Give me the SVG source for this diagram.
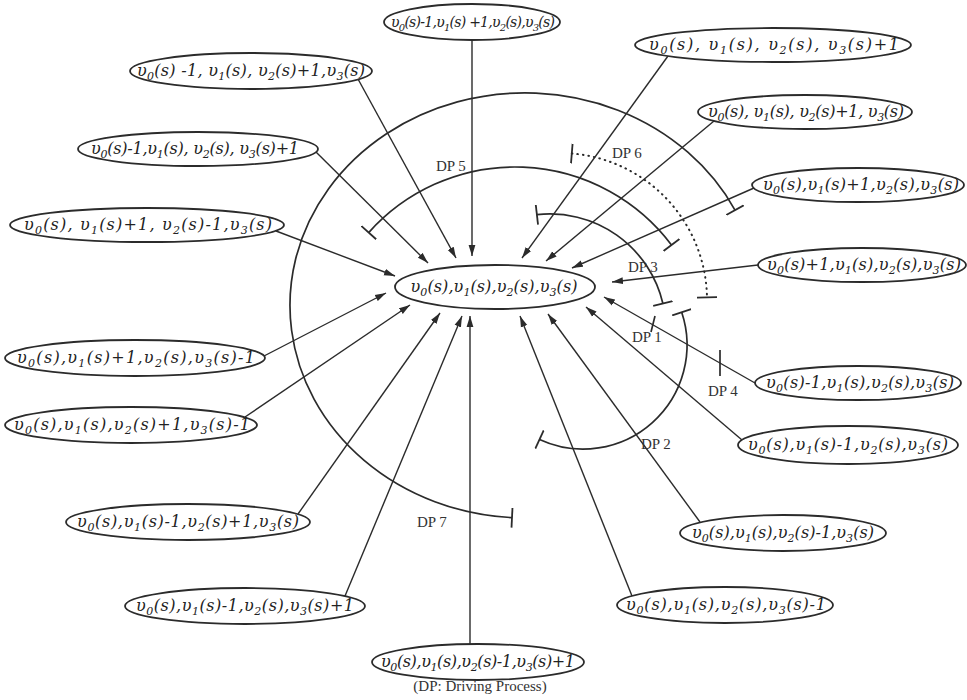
<svg xmlns="http://www.w3.org/2000/svg" width="967" height="700" viewBox="0 0 967 700">
<style>
.nd ellipse{fill:#fff;stroke:#2b2b2b;stroke-width:1.8}
.nd text{font-family:"DejaVu Serif","Liberation Serif",serif;font-style:italic;font-size:16px;fill:#222;text-anchor:middle}
.sb{font-size:11px}
.cn line{stroke:#2b2b2b;stroke-width:1.4;marker-end:url(#ah)}
.dp path{fill:none;stroke:#2b2b2b;stroke-width:1.7;marker-start:url(#tee);marker-end:url(#tee)}
.dp line{stroke:#2b2b2b;stroke-width:1.7}
.dp path.dot{stroke-dasharray:0.6 5;stroke-linecap:round;stroke-width:2}
.lb{font-family:"Liberation Serif","DejaVu Serif",serif;font-size:15px;fill:#333}
.cap{font-family:"Liberation Serif","DejaVu Serif",serif;font-size:15px;fill:#333;text-anchor:middle}
</style>
<defs>
<marker id="ah" markerWidth="12" markerHeight="8" refX="11" refY="4" orient="auto" markerUnits="userSpaceOnUse"><path d="M0,0.6 L11,4 L0,7.4 z" fill="#2b2b2b"/></marker>
<marker id="tee" markerWidth="4" markerHeight="20" refX="2" refY="10" orient="auto" markerUnits="userSpaceOnUse"><path d="M2,0 L2,20" stroke="#2b2b2b" stroke-width="1.8"/></marker>
</defs>
<rect width="967" height="700" fill="#fff"/>

<g id="driving-processes" class="dp">
<path id="dp7" d="M512,517.6 A235,212.5 0 1 1 735,210.1"/>
<path id="dp5" d="M368.7,232.6 A196,196 0 0 1 671.5,245"/>
<path id="dp3" d="M536.9,214.7 A116,116 0 0 1 662.9,303.5"/>
<path id="dp2" d="M539.5,439.5 A104,104 0 0 0 681.7,312.2"/>
<path id="dp6" class="dot" d="M571.8,153.5 A147,147 0 0 1 707,297.4"/>
<line id="dp4" x1="720" y1="350" x2="720" y2="376"/>
<line id="dp1" x1="651" y1="332" x2="655" y2="316"/>
</g>

<g id="connectors" class="cn">
<line x1="472" y1="40" x2="472" y2="256"/>
<line x1="358" y1="79" x2="456" y2="258"/>
<line x1="668" y1="56" x2="522" y2="258"/>
<line x1="714" y1="121" x2="546" y2="261"/>
<line x1="316" y1="152" x2="428" y2="263"/>
<line x1="754" y1="188" x2="572" y2="268"/>
<line x1="276" y1="231" x2="395" y2="276"/>
<line x1="758" y1="265" x2="612" y2="282"/>
<line x1="264" y1="356" x2="386" y2="293"/>
<line x1="755" y1="383" x2="604" y2="297"/>
<line x1="245" y1="417" x2="410" y2="305"/>
<line x1="742" y1="440" x2="586" y2="307"/>
<line x1="298" y1="514" x2="440" y2="313"/>
<line x1="700" y1="522" x2="548" y2="314"/>
<line x1="345" y1="596" x2="462" y2="316"/>
<line x1="632" y1="596" x2="520" y2="316"/>
<line x1="470" y1="644" x2="470" y2="316"/>
</g>

<g id="dp-labels">
<text class="lb" x="436" y="171">DP 5</text>
<text class="lb" x="612" y="158">DP 6</text>
<text class="lb" x="628" y="272">DP 3</text>
<text class="lb" x="632" y="342">DP 1</text>
<text class="lb" x="708" y="396">DP 4</text>
<text class="lb" x="641" y="449">DP 2</text>
<text class="lb" x="417" y="527">DP 7</text>
</g>

<g id="n-center" class="nd"><ellipse cx="495" cy="287" rx="100" ry="22"/><text x="494" y="292" textLength="167">υ<tspan class="sb" dy="4">0</tspan><tspan dy="-4">(s),υ</tspan><tspan class="sb" dy="4">1</tspan><tspan dy="-4">(s),υ</tspan><tspan class="sb" dy="4">2</tspan><tspan dy="-4">(s),υ</tspan><tspan class="sb" dy="4">3</tspan><tspan dy="-4">(s)</tspan></text></g>

<g id="n1" class="nd"><ellipse cx="472" cy="22" rx="88" ry="18"/><text x="473" y="27" textLength="164" style="font-size:14px">υ<tspan class="sb" dy="4" style="font-size:10px">0</tspan><tspan dy="-4">(s)-1,υ</tspan><tspan class="sb" dy="4" style="font-size:10px">1</tspan><tspan dy="-4">(s) +1,υ</tspan><tspan class="sb" dy="4" style="font-size:10px">2</tspan><tspan dy="-4">(s),υ</tspan><tspan class="sb" dy="4" style="font-size:10px">3</tspan><tspan dy="-4">(s)</tspan></text></g>

<g id="n2" class="nd"><ellipse cx="251" cy="71" rx="121" ry="18"/><text x="251" y="76" textLength="228">υ<tspan class="sb" dy="4">0</tspan><tspan dy="-4">(s) -1, υ</tspan><tspan class="sb" dy="4">1</tspan><tspan dy="-4">(s), υ</tspan><tspan class="sb" dy="4">2</tspan><tspan dy="-4">(s)+1,υ</tspan><tspan class="sb" dy="4">3</tspan><tspan dy="-4">(s)</tspan></text></g>

<g id="n3" class="nd"><ellipse cx="773" cy="45" rx="138" ry="17"/><text x="774" y="50" textLength="250">υ<tspan class="sb" dy="4">0</tspan><tspan dy="-4">(s), υ</tspan><tspan class="sb" dy="4">1</tspan><tspan dy="-4">(s), υ</tspan><tspan class="sb" dy="4">2</tspan><tspan dy="-4">(s), υ</tspan><tspan class="sb" dy="4">3</tspan><tspan dy="-4">(s)+1</tspan></text></g>

<g id="n4" class="nd"><ellipse cx="805" cy="112" rx="107" ry="17"/><text x="806" y="117" textLength="196">υ<tspan class="sb" dy="4">0</tspan><tspan dy="-4">(s), υ</tspan><tspan class="sb" dy="4">1</tspan><tspan dy="-4">(s), υ</tspan><tspan class="sb" dy="4">2</tspan><tspan dy="-4">(s)+1, υ</tspan><tspan class="sb" dy="4">3</tspan><tspan dy="-4">(s)</tspan></text></g>

<g id="n5" class="nd"><ellipse cx="198" cy="149" rx="120" ry="17"/><text x="195" y="154" textLength="208">υ<tspan class="sb" dy="4">0</tspan><tspan dy="-4">(s)-1,υ</tspan><tspan class="sb" dy="4">1</tspan><tspan dy="-4">(s), υ</tspan><tspan class="sb" dy="4">2</tspan><tspan dy="-4">(s), υ</tspan><tspan class="sb" dy="4">3</tspan><tspan dy="-4">(s)+1</tspan></text></g>

<g id="n6" class="nd"><ellipse cx="858" cy="185" rx="106" ry="17"/><text x="861" y="190" textLength="196">υ<tspan class="sb" dy="4">0</tspan><tspan dy="-4">(s),υ</tspan><tspan class="sb" dy="4">1</tspan><tspan dy="-4">(s)+1,υ</tspan><tspan class="sb" dy="4">2</tspan><tspan dy="-4">(s),υ</tspan><tspan class="sb" dy="4">3</tspan><tspan dy="-4">(s)</tspan></text></g>

<g id="n7" class="nd"><ellipse cx="147" cy="225" rx="137" ry="17"/><text x="148" y="230" textLength="248">υ<tspan class="sb" dy="4">0</tspan><tspan dy="-4">(s), υ</tspan><tspan class="sb" dy="4">1</tspan><tspan dy="-4">(s)+1, υ</tspan><tspan class="sb" dy="4">2</tspan><tspan dy="-4">(s)-1,υ</tspan><tspan class="sb" dy="4">3</tspan><tspan dy="-4">(s)</tspan></text></g>

<g id="n8" class="nd"><ellipse cx="862" cy="265" rx="104" ry="17"/><text x="864" y="270" textLength="194">υ<tspan class="sb" dy="4">0</tspan><tspan dy="-4">(s)+1,υ</tspan><tspan class="sb" dy="4">1</tspan><tspan dy="-4">(s),υ</tspan><tspan class="sb" dy="4">2</tspan><tspan dy="-4">(s),υ</tspan><tspan class="sb" dy="4">3</tspan><tspan dy="-4">(s)</tspan></text></g>

<g id="n9" class="nd"><ellipse cx="135" cy="358" rx="130" ry="18"/><text x="136" y="363" textLength="238">υ<tspan class="sb" dy="4">0</tspan><tspan dy="-4">(s),υ</tspan><tspan class="sb" dy="4">1</tspan><tspan dy="-4">(s)+1,υ</tspan><tspan class="sb" dy="4">2</tspan><tspan dy="-4">(s),υ</tspan><tspan class="sb" dy="4">3</tspan><tspan dy="-4">(s)-1</tspan></text></g>

<g id="n10" class="nd"><ellipse cx="858" cy="383" rx="103" ry="17"/><text x="860" y="388" textLength="188">υ<tspan class="sb" dy="4">0</tspan><tspan dy="-4">(s)-1,υ</tspan><tspan class="sb" dy="4">1</tspan><tspan dy="-4">(s),υ</tspan><tspan class="sb" dy="4">2</tspan><tspan dy="-4">(s),υ</tspan><tspan class="sb" dy="4">3</tspan><tspan dy="-4">(s)</tspan></text></g>

<g id="n11" class="nd"><ellipse cx="131" cy="425" rx="126" ry="18"/><text x="132" y="430" textLength="236">υ<tspan class="sb" dy="4">0</tspan><tspan dy="-4">(s),υ</tspan><tspan class="sb" dy="4">1</tspan><tspan dy="-4">(s),υ</tspan><tspan class="sb" dy="4">2</tspan><tspan dy="-4">(s)+1,υ</tspan><tspan class="sb" dy="4">3</tspan><tspan dy="-4">(s)-1</tspan></text></g>

<g id="n12" class="nd"><ellipse cx="848" cy="445" rx="110" ry="19"/><text x="848" y="450" textLength="200">υ<tspan class="sb" dy="4">0</tspan><tspan dy="-4">(s),υ</tspan><tspan class="sb" dy="4">1</tspan><tspan dy="-4">(s)-1,υ</tspan><tspan class="sb" dy="4">2</tspan><tspan dy="-4">(s),υ</tspan><tspan class="sb" dy="4">3</tspan><tspan dy="-4">(s)</tspan></text></g>

<g id="n13" class="nd"><ellipse cx="188" cy="522" rx="122" ry="18"/><text x="188" y="527" textLength="222">υ<tspan class="sb" dy="4">0</tspan><tspan dy="-4">(s),υ</tspan><tspan class="sb" dy="4">1</tspan><tspan dy="-4">(s)-1,υ</tspan><tspan class="sb" dy="4">2</tspan><tspan dy="-4">(s)+1,υ</tspan><tspan class="sb" dy="4">3</tspan><tspan dy="-4">(s)</tspan></text></g>

<g id="n14" class="nd"><ellipse cx="783" cy="533" rx="103" ry="18"/><text x="783" y="538" textLength="182">υ<tspan class="sb" dy="4">0</tspan><tspan dy="-4">(s),υ</tspan><tspan class="sb" dy="4">1</tspan><tspan dy="-4">(s),υ</tspan><tspan class="sb" dy="4">2</tspan><tspan dy="-4">(s)-1,υ</tspan><tspan class="sb" dy="4">3</tspan><tspan dy="-4">(s)</tspan></text></g>

<g id="n15" class="nd"><ellipse cx="245" cy="606" rx="120" ry="18"/><text x="245" y="611" textLength="218">υ<tspan class="sb" dy="4">0</tspan><tspan dy="-4">(s),υ</tspan><tspan class="sb" dy="4">1</tspan><tspan dy="-4">(s)-1,υ</tspan><tspan class="sb" dy="4">2</tspan><tspan dy="-4">(s),υ</tspan><tspan class="sb" dy="4">3</tspan><tspan dy="-4">(s)+1</tspan></text></g>

<g id="n16" class="nd"><ellipse cx="725" cy="605" rx="108" ry="18"/><text x="726" y="610" textLength="200">υ<tspan class="sb" dy="4">0</tspan><tspan dy="-4">(s),υ</tspan><tspan class="sb" dy="4">1</tspan><tspan dy="-4">(s),υ</tspan><tspan class="sb" dy="4">2</tspan><tspan dy="-4">(s),υ</tspan><tspan class="sb" dy="4">3</tspan><tspan dy="-4">(s)-1</tspan></text></g>

<g id="n17" class="nd"><ellipse cx="478" cy="662" rx="106" ry="18"/><text x="478" y="667" textLength="194">υ<tspan class="sb" dy="4">0</tspan><tspan dy="-4">(s),υ</tspan><tspan class="sb" dy="4">1</tspan><tspan dy="-4">(s),υ</tspan><tspan class="sb" dy="4">2</tspan><tspan dy="-4">(s)-1,υ</tspan><tspan class="sb" dy="4">3</tspan><tspan dy="-4">(s)+1</tspan></text></g>

<text class="cap" x="480" y="691">(DP: Driving Process)</text>
</svg>
